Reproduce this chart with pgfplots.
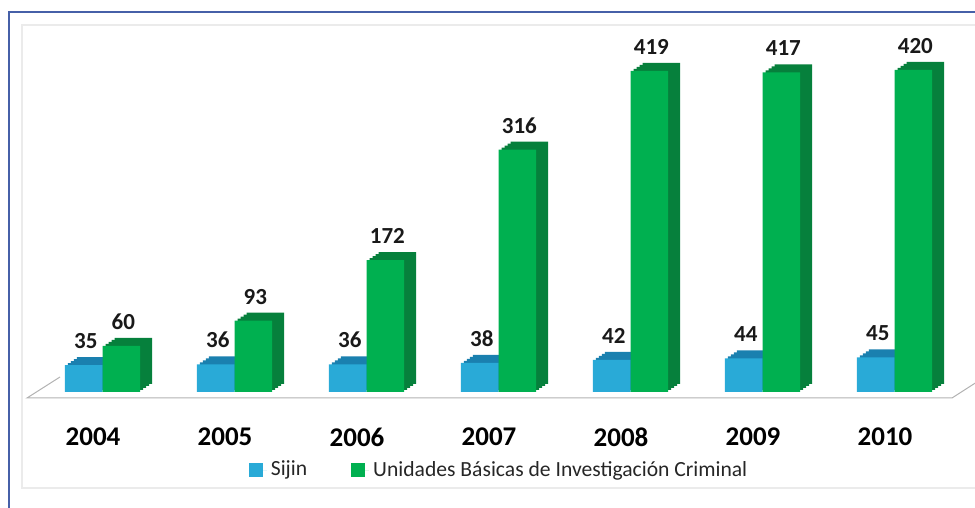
\documentclass[border=0pt]{standalone}
\usepackage{pgfplots}
\pgfplotsset{compat=1.18}
\usepackage{fontspec}
\setmainfont{Carlito}
\definecolor{bfront}{RGB}{41,170,215}
\definecolor{bside}{RGB}{26,128,175}
\definecolor{gfront}{RGB}{0,176,80}
\definecolor{gside}{RGB}{6,128,60}
\definecolor{frameblue}{RGB}{70,96,168}
\begin{document}
\begin{tikzpicture}
\useasboundingbox (0,0) rectangle (487.5pt,254pt);
\begin{scope}
\clip (0,0) rectangle (487.5pt,254pt);
\draw[frameblue,line width=0.8pt] (4.5pt,-2pt) -- (4.5pt,248pt) -- (495pt,248pt);
\draw[black!8,line width=1.2pt] (11pt,10pt) rectangle (495pt,241.5pt);
\draw[black!30,line width=0.5pt] (30pt,65.5pt) -- (13.5pt,55pt) -- (476pt,55pt) -- (490pt,64pt);
\end{scope}
\begin{axis}[
  at={(13.5pt,58pt)}, anchor=south west,
  scale only axis, width=462pt, height=184pt,
  xmin=-0.5, xmax=6.5, ymin=0, ymax=480,
  clip=false,
  /pgf/number format/assume math mode=true,
  axis x line*=bottom, axis y line=none,
  x axis line style={draw=none},
  major tick length=0pt,
  xtick={0,1,2,3,4,5,6},
  xticklabels={2004,2005,2006,2007,2008,2009,2010},
  xticklabel style={font=\fontsize{13.5}{14}\selectfont\bfseries, anchor=center, yshift=-22.5pt},
  ybar, bar width=0.285,
  every node near coord/.append style={font=\fontsize{11.5}{12}\selectfont\bfseries, inner sep=0pt, yshift=8pt, xshift=1pt, text=black!90},
  legend columns=2,
  legend style={at={(0.512,-0.212)}, anchor=center, draw=none, fill=none,
    font=\fontsize{10.8}{12}\selectfont, text=black!85,
    /tikz/every even column/.append style={column sep=20pt}},
  legend image code/.code={\fill[#1,draw=none] (0pt,-3.4pt) rectangle (7pt,3.4pt); \path (0pt,0pt) -- (9pt,0pt);},
]
% Sijin shadows (3D depth)
\addplot[fill=bside,draw=none,bar shift=-0.07,forget plot,xshift=6pt,yshift=4pt] coordinates {(0,35) (1,36) (2,36) (3,38) (4,42) (5,44) (6,45)};
\addplot[fill=bside,draw=none,bar shift=-0.07,forget plot,xshift=4.5pt,yshift=3pt] coordinates {(0,35) (1,36) (2,36) (3,38) (4,42) (5,44) (6,45)};
\addplot[fill=bside,draw=none,bar shift=-0.07,forget plot,xshift=3pt,yshift=2pt] coordinates {(0,35) (1,36) (2,36) (3,38) (4,42) (5,44) (6,45)};
\addplot[fill=bside,draw=none,bar shift=-0.07,forget plot,xshift=1.5pt,yshift=1pt] coordinates {(0,35) (1,36) (2,36) (3,38) (4,42) (5,44) (6,45)};
% UBIC shadows
\addplot[fill=gside,draw=none,bar shift=0.215,forget plot,xshift=6pt,yshift=4pt] coordinates {(0,60) (1,93) (2,172) (3,316) (4,419) (5,417) (6,420)};
\addplot[fill=gside,draw=none,bar shift=0.215,forget plot,xshift=4.5pt,yshift=3pt] coordinates {(0,60) (1,93) (2,172) (3,316) (4,419) (5,417) (6,420)};
\addplot[fill=gside,draw=none,bar shift=0.215,forget plot,xshift=3pt,yshift=2pt] coordinates {(0,60) (1,93) (2,172) (3,316) (4,419) (5,417) (6,420)};
\addplot[fill=gside,draw=none,bar shift=0.215,forget plot,xshift=1.5pt,yshift=1pt] coordinates {(0,60) (1,93) (2,172) (3,316) (4,419) (5,417) (6,420)};
% front faces
\addplot[fill=bfront,draw=none,bar shift=-0.07,nodes near coords] coordinates {(0,35) (1,36) (2,36) (3,38) (4,42) (5,44) (6,45)};
\addplot[fill=gfront,draw=none,bar shift=0.215,nodes near coords] coordinates {(0,60) (1,93) (2,172) (3,316) (4,419) (5,417) (6,420)};
\legend{Sijin, Unidades Básicas de Investigación Criminal}
\end{axis}
\end{tikzpicture}
\end{document}
